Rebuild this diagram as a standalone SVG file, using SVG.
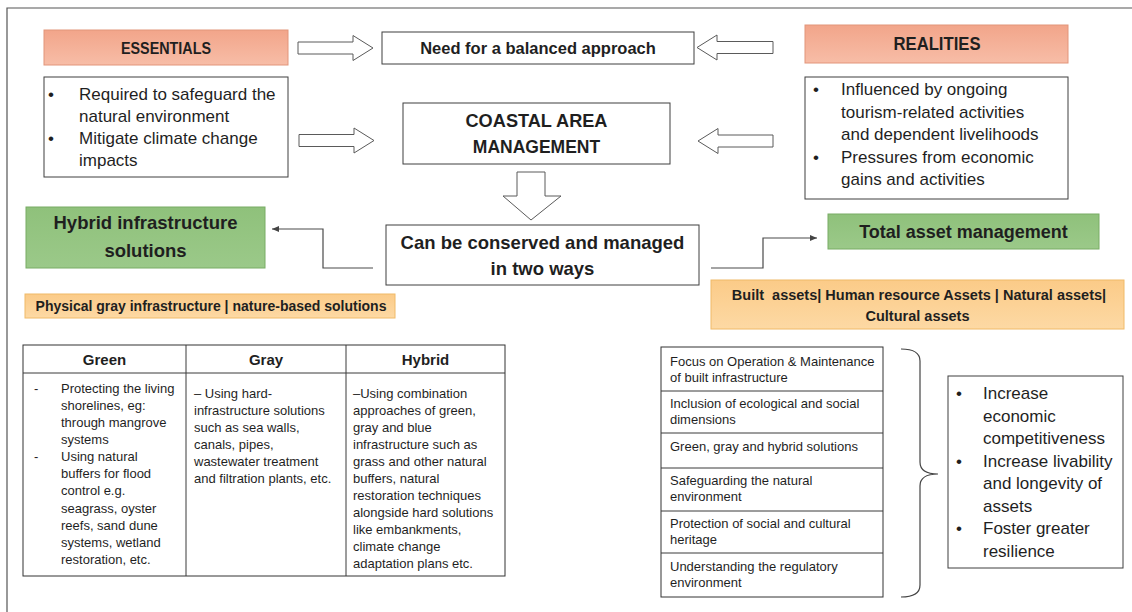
<svg xmlns="http://www.w3.org/2000/svg" width="1132" height="612" viewBox="0 0 1132 612">
<defs>
<marker id="ah" markerWidth="8" markerHeight="8" refX="7" refY="4" orient="auto" markerUnits="userSpaceOnUse"><path d="M0,1 L7,4 L0,7 Z" fill="#444"/></marker>
<linearGradient id="salmon" x1="0" y1="0" x2="0" y2="1"><stop offset="0" stop-color="#F2A58A"/><stop offset="1" stop-color="#F7BDA7"/></linearGradient>
<linearGradient id="green" x1="0" y1="0" x2="0" y2="1"><stop offset="0" stop-color="#8FC17B"/><stop offset="1" stop-color="#9BC989"/></linearGradient>
<linearGradient id="orange" x1="0" y1="0" x2="0" y2="1"><stop offset="0" stop-color="#FBCB88"/><stop offset="1" stop-color="#FDD9A4"/></linearGradient>
</defs>
<style>
text{font-family:"Liberation Sans",Arial,sans-serif;fill:#1f1f1f}
.b{font-weight:bold}
.c{text-anchor:middle}
.box{fill:#fff;stroke:#3f3f3f;stroke-width:1}
.salmon{fill:url(#salmon);stroke:#E2957A;stroke-width:1}
.green{fill:url(#green);stroke:#78AC65;stroke-width:1}
.orange{fill:url(#orange);stroke:#F0BA68;stroke-width:1}
.blk{fill:#fff;stroke:#5a5a5a;stroke-width:1}
.conn{fill:none;stroke:#4a4a4a;stroke-width:1.2}
.li{font-size:17px}
.tb{font-size:13px}
.rl{font-size:13px}
.line{stroke:#3a3a3a;stroke-width:1;fill:none}
</style>
<rect width="1132" height="612" fill="#fff"/>
<path d="M7,612 V8 H1132" fill="none" stroke="#555" stroke-width="1.2"/>

<g id="essentials">
<rect class="salmon" x="44" y="30" width="244" height="35"/>
<text class="b c" x="166" y="54" font-size="17" textLength="90" lengthAdjust="spacingAndGlyphs">ESSENTIALS</text>
</g>
<g id="essentials-list">
<rect class="box" x="44" y="77" width="244" height="100"/>
<text class="li" x="48" y="100">•</text>
<text class="li" x="79" y="100">Required to safeguard the</text>
<text class="li" x="79" y="122">natural environment</text>
<text class="li" x="48" y="144">•</text>
<text class="li" x="79" y="144">Mitigate climate change</text>
<text class="li" x="79" y="166">impacts</text>
</g>
<g id="balanced">
<rect class="box" x="382" y="32" width="312" height="32"/>
<text class="b c" x="538" y="54" font-size="16.5">Need for a balanced approach</text>
</g>
<g id="realities">
<rect class="salmon" x="805" y="25" width="263" height="38"/>
<text class="b c" x="937" y="50" font-size="17.5" textLength="87" lengthAdjust="spacingAndGlyphs">REALITIES</text>
</g>
<g id="realities-list">
<rect class="box" x="805" y="77" width="263" height="122"/>
<text class="li" x="813" y="95">•</text>
<text class="li" x="841" y="95">Influenced by ongoing</text>
<text class="li" x="841" y="117.5">tourism-related activities</text>
<text class="li" x="841" y="140">and dependent livelihoods</text>
<text class="li" x="813" y="162.5">•</text>
<text class="li" x="841" y="162.5">Pressures from economic</text>
<text class="li" x="841" y="185">gains and activities</text>
</g>
<g id="coastal">
<rect class="box" x="403" y="103" width="267" height="61"/>
<text class="b c" x="536.5" y="127" font-size="17.5" textLength="142" lengthAdjust="spacingAndGlyphs">COASTAL AREA</text>
<text class="b c" x="536.5" y="153" font-size="17.5">MANAGEMENT</text>
</g>
<g id="conserve">
<rect class="box" x="386" y="225" width="313" height="60"/>
<text class="b c" x="542.5" y="249" font-size="18.5">Can be conserved and managed</text>
<text class="b c" x="542.5" y="275" font-size="18.5">in two ways</text>
</g>
<g id="hybrid">
<rect class="green" x="26" y="207" width="239" height="61"/>
<text class="b c" x="145.5" y="229" font-size="18.5">Hybrid infrastructure</text>
<text class="b c" x="145.5" y="257" font-size="18.5">solutions</text>
</g>
<g id="physical">
<rect class="orange" x="25" y="294" width="370" height="24"/>
<text class="b c" x="211" y="311" font-size="14">Physical gray infrastructure | nature-based solutions</text>
</g>
<g id="total">
<rect class="green" x="828" y="214" width="271" height="35"/>
<text class="b c" x="963.5" y="238" font-size="18">Total asset management</text>
</g>
<g id="assets">
<rect class="orange" x="711" y="280" width="413" height="49"/>
<text class="b c" x="919" y="300" font-size="14.5" xml:space="preserve">Built  assets| Human resource Assets | Natural assets|</text>
<text class="b c" x="917.5" y="321" font-size="14.5">Cultural assets</text>
</g>

<g id="table">
<rect x="23" y="345" width="482" height="231" fill="#fff" stroke="#333" stroke-width="1"/>
<path class="line" d="M23,373 H505 M186,345 V576 M346,345 V576"/>
<text class="b c" x="104.5" y="365" font-size="15">Green</text>
<text class="b c" x="266" y="365" font-size="15">Gray</text>
<text class="b c" x="425.5" y="365" font-size="15">Hybrid</text>
<g class="tb">
<text class="tb" x="34" y="393">-</text>
<text class="tb" x="61" y="393">Protecting the living</text>
<text class="tb" x="61" y="410">shorelines, eg:</text>
<text class="tb" x="61" y="427">through  mangrove</text>
<text class="tb" x="61" y="444">systems</text>
<text class="tb" x="34" y="461">-</text>
<text class="tb" x="61" y="461">Using natural</text>
<text class="tb" x="61" y="478">buffers for flood</text>
<text class="tb" x="61" y="495">control e.g.</text>
<text class="tb" x="61" y="512.5">seagrass, oyster</text>
<text class="tb" x="61" y="529.5">reefs, sand dune</text>
<text class="tb" x="61" y="546.5">systems, wetland</text>
<text class="tb" x="61" y="563.5">restoration, etc.</text>
<text class="tb" x="194" y="398">– Using hard-</text>
<text class="tb" x="194" y="415">infrastructure solutions</text>
<text class="tb" x="194" y="432">such as sea walls,</text>
<text class="tb" x="194" y="449">canals, pipes,</text>
<text class="tb" x="194" y="466">wastewater treatment</text>
<text class="tb" x="194" y="483">and filtration plants, etc.</text>
<text class="tb" x="353" y="398">–Using combination</text>
<text class="tb" x="353" y="415">approaches of green,</text>
<text class="tb" x="353" y="432">gray and blue</text>
<text class="tb" x="353" y="449">infrastructure such as</text>
<text class="tb" x="353" y="466">grass and other natural</text>
<text class="tb" x="353" y="483">buffers, natural</text>
<text class="tb" x="353" y="500">restoration techniques</text>
<text class="tb" x="353" y="517">alongside hard solutions</text>
<text class="tb" x="353" y="534">like embankments,</text>
<text class="tb" x="353" y="551">climate change</text>
<text class="tb" x="353" y="568">adaptation plans etc.</text>
</g>
</g>

<g id="focus-list">
<rect x="661" y="347" width="222" height="250" fill="#fff" stroke="#333" stroke-width="1"/>
<path class="line" d="M661,391 H883 M661,433 H883 M661,468 H883 M661,511 H883 M661,553 H883"/>
<text class="rl" x="670" y="366">Focus on Operation &amp; Maintenance</text>
<text class="rl" x="670" y="382">of built infrastructure</text>
<text class="rl" x="670" y="408">Inclusion of ecological and social</text>
<text class="rl" x="670" y="424">dimensions</text>
<text class="rl" x="670" y="451">Green, gray and hybrid solutions</text>
<text class="rl" x="670" y="485">Safeguarding the natural</text>
<text class="rl" x="670" y="501">environment</text>
<text class="rl" x="670" y="528">Protection of social and cultural</text>
<text class="rl" x="670" y="544">heritage</text>
<text class="rl" x="670" y="571">Understanding the regulatory</text>
<text class="rl" x="670" y="587">environment</text>
</g>
<g id="brace">
<path d="M901,349 Q920,349 920,361 V462 Q920,474 938,474 Q920,474 920,486 V585 Q920,597 901,597" fill="none" stroke="#444" stroke-width="1.2"/>
</g>
<g id="benefits">
<rect class="box" x="948" y="376" width="175" height="192"/>
<text class="li" x="956" y="399">•</text>
<text class="li" x="983" y="399">Increase</text>
<text class="li" x="983" y="421.5">economic</text>
<text class="li" x="983" y="444">competitiveness</text>
<text class="li" x="956" y="466.5">•</text>
<text class="li" x="983" y="466.5">Increase livability</text>
<text class="li" x="983" y="489">and longevity of</text>
<text class="li" x="983" y="511.5">assets</text>
<text class="li" x="956" y="534">•</text>
<text class="li" x="983" y="534">Foster greater</text>
<text class="li" x="983" y="556.5">resilience</text>
</g>

<g id="connectors">
<path class="blk" d="M298,42 H353 V35.5 L373,48 L353,60.5 V54 H298 Z"/>
<path class="blk" d="M773,41.5 H717 V35 L697,47.5 L717,60 V53.5 H773 Z"/>
<path class="blk" d="M299,134.5 H354 V128 L374,140.5 L354,153 V146.5 H299 Z"/>
<path class="blk" d="M773,135 H718 V128.5 L698,141 L718,153.5 V147 H773 Z"/>
<path class="blk" d="M517,172 H545 V196 H561 L531,220 L503,196 H517 Z"/>
<path class="conn" d="M373,268 H323 V229 H272" marker-end="url(#ah)"/>
<path class="conn" d="M711,268 H763 V238 H817" marker-end="url(#ah)"/>
</g>
</svg>
